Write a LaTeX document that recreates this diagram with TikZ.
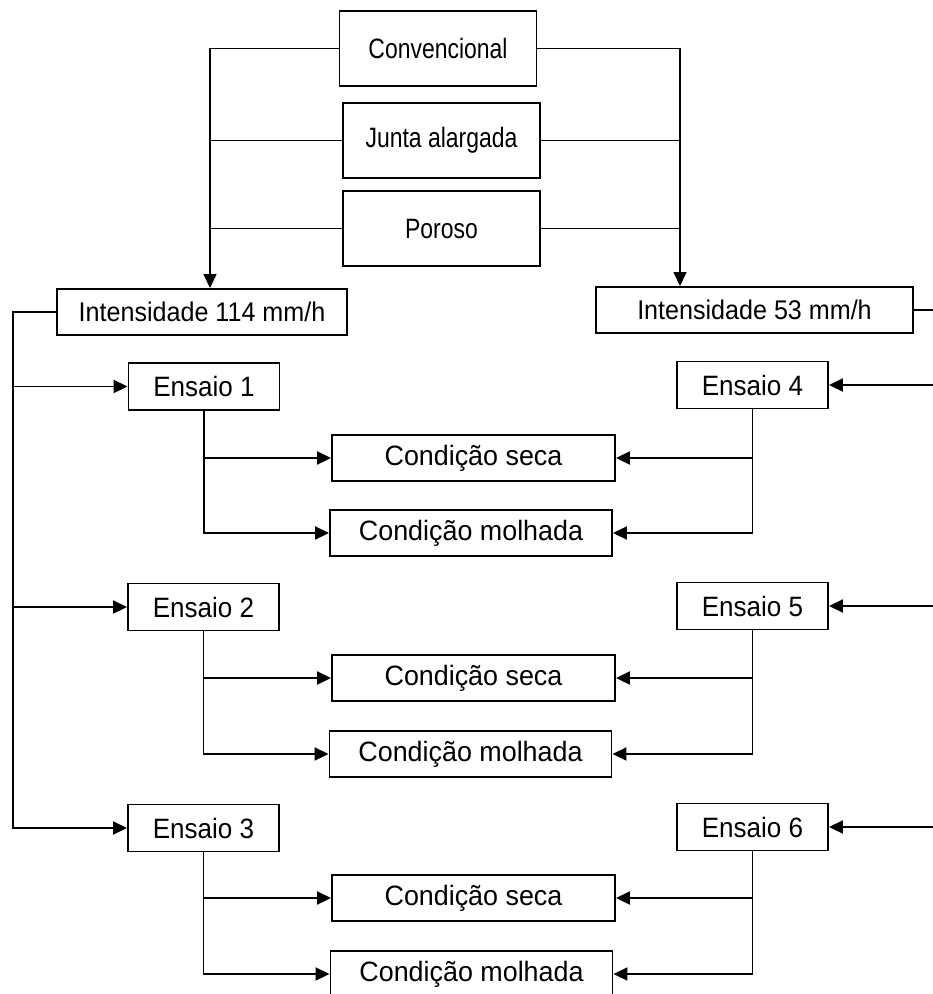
\documentclass[tikz,border=0pt]{standalone}
\usepackage{fontspec}
\setmainfont{Liberation Sans}
\newfontfamily\typefont[FakeStretch=0.82]{Liberation Sans}
\newfontfamily\intfont[FakeStretch=0.93]{Liberation Sans}
\newfontfamily\testfont[FakeStretch=0.93]{Liberation Sans}
\newfontfamily\condfont[FakeStretch=0.96]{Liberation Sans}
\usetikzlibrary{arrows.meta}
\begin{document}
\begin{tikzpicture}[x=1pt,y=-1pt,
  box/.style={draw,line width=1.9pt,inner sep=0pt,minimum height=46pt,anchor=center},
  topbox/.style={box,minimum width=197pt,minimum height=75pt,font=\typefont\fontsize{28}{32}\selectfont},
  intbox/.style={box,font=\intfont\fontsize{27}{31}\selectfont},
  testbox/.style={box,minimum width=151pt,minimum height=47pt,font=\testfont\fontsize{28}{32}\selectfont},
  condbox/.style={box,minimum width=282pt,font=\condfont\fontsize{28}{32}\selectfont},
  link/.style={line width=1.9pt},
  thinlink/.style={line width=1.5pt},
  arr/.style={link,-{Triangle[length=14pt,width=13pt]}}]
\useasboundingbox (0,0) rectangle (933,994);
\clip (0,0) rectangle (933,994);

% pavement types
\node[topbox] (conv)  at (438,48.5)   {Convencional};
\node[topbox] (junta) at (441.5,140.5){Junta alargada};
\node[topbox] (poro)  at (441.5,228.5){Poroso};

% rain intensities
\node[intbox,minimum width=290pt] (i114) at (202,312)   {Intensidade 114 mm/h};
\node[intbox,minimum width=317pt] (i53)  at (754.5,310) {Intensidade 53 mm/h};

% tests
\node[testbox] (e1) at (204,386.5) {Ensaio 1};
\node[testbox] (e2) at (203.5,607) {Ensaio 2};
\node[testbox] (e3) at (203.5,828) {Ensaio 3};
\node[testbox] (e4) at (752.5,385) {Ensaio 4};
\node[testbox] (e5) at (752.5,606) {Ensaio 5};
\node[testbox] (e6) at (752.5,827) {Ensaio 6};

% surface conditions
\node[condbox,minimum width=283pt] (s1) at (473.5,458) {Condição seca};
\node[condbox] (m1) at (471,533)     {Condição molhada};
\node[condbox,minimum width=283pt] (s2) at (473.5,678) {Condição seca};
\node[condbox] (m2) at (470.5,754)   {Condição molhada};
\node[condbox,minimum width=283pt] (s3) at (473.5,898) {Condição seca};
\node[condbox] (m3) at (471.5,974)   {Condição molhada};

% bus coordinates
\coordinate (lbus) at (210,0);
\coordinate (rbus) at (680,0);
\coordinate (lside) at (13,0);
\coordinate (rside) at (950,0);

% pavement types to intensities
\draw[arr,thinlink] (conv.west) -| (i114.north -| lbus);
\draw[thinlink] (junta.west) -- (junta.west -| lbus);
\draw[thinlink] (poro.west) -- (poro.west -| lbus);
\draw[arr,thinlink] (conv.east) -| (i53.north -| rbus);
\draw[thinlink] (junta.east) -- (junta.east -| rbus);
\draw[thinlink] (poro.east) -- (poro.east -| rbus);

% intensities to tests
\draw[arr] (i114.west) -| (lside |- e3.west) -- (e3.west);
\draw[arr] (lside |- e1.west) -- (e1.west);
\draw[arr] (lside |- e2.west) -- (e2.west);
\draw[link] (i53.east) -| (rside |- e6.east);
\draw[arr] (rside |- e4.east) -- (e4.east);
\draw[arr] (rside |- e5.east) -- (e5.east);
\draw[arr] (rside |- e6.east) -- (e6.east);

% tests to conditions
\foreach \e/\s/\m in {e1/s1/m1,e2/s2/m2,e3/s3/m3}{
  \draw[arr] (\e.south) |- (\m.west);
  \draw[arr] (\e.south |- \s.west) -- (\s.west);
}
\foreach \e/\s/\m in {e4/s1/m1,e5/s2/m2,e6/s3/m3}{
  \draw[arr] (\e.south) |- (\m.east);
  \draw[arr] (\e.south |- \s.east) -- (\s.east);
}
\end{tikzpicture}
\end{document}
